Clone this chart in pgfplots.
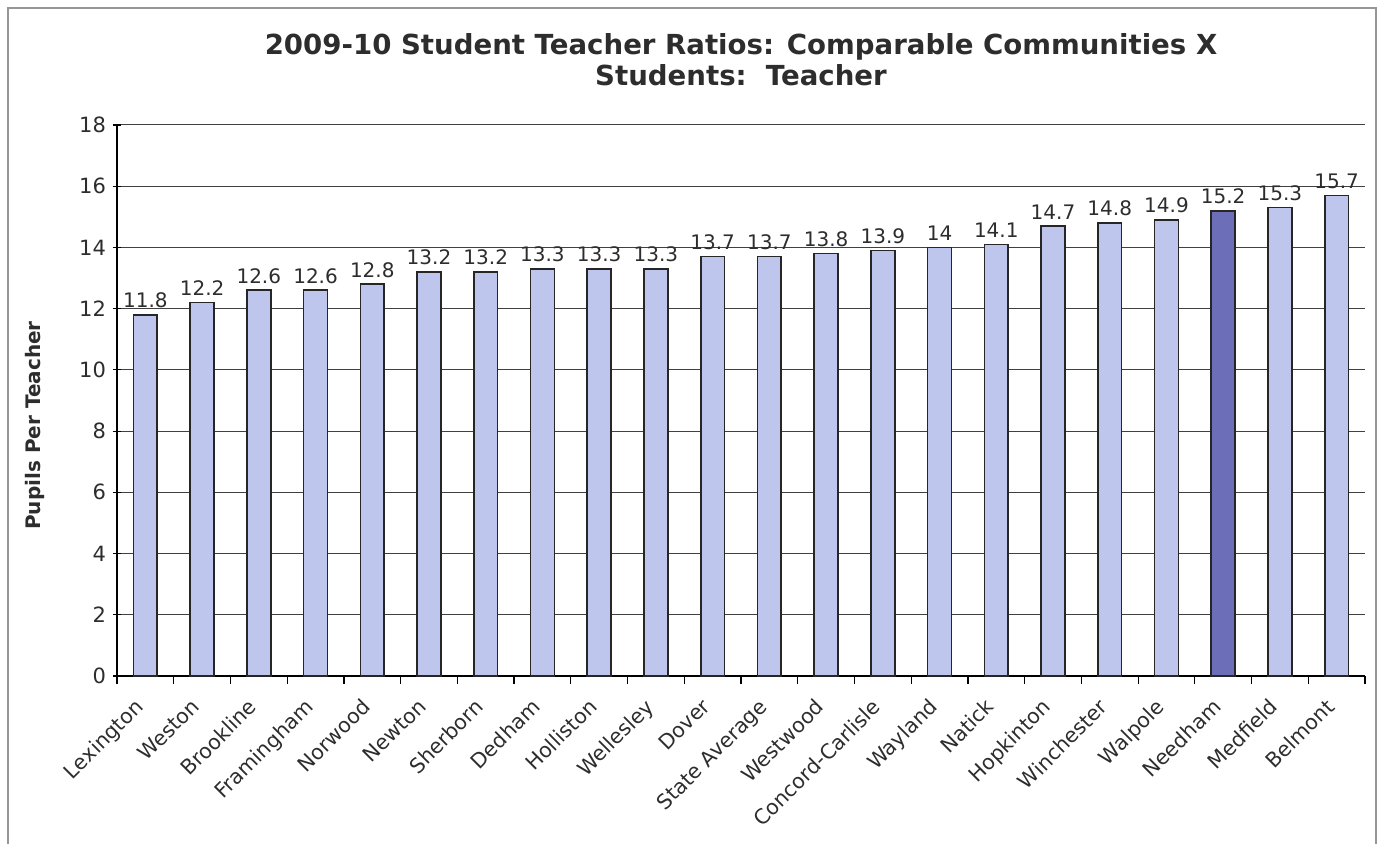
\documentclass[border=0pt]{standalone}
\usepackage{fontspec}
\setmainfont{DejaVu Sans}
\usepackage{pgfplots}
\pgfplotsset{compat=1.18}
\definecolor{barlight}{RGB}{190,198,238}
\definecolor{bardark}{RGB}{108,110,184}
\definecolor{txt}{RGB}{45,45,45}
\definecolor{framegray}{RGB}{150,150,150}
\begin{document}
\begin{tikzpicture}
\begin{axis}[
  scale only axis, width=624pt, height=275.5pt,
  ymin=0, ymax=18, ytick={0,2,...,18},
  xmin=-0.5, xmax=21.5,
  xtick={0,...,21},
  xticklabels={Lexington,Weston,Brookline,Framingham,Norwood,Newton,Sherborn,Dedham,Holliston,Wellesley,Dover,State Average,Westwood,Concord-Carlisle,Wayland,Natick,Hopkinton,Winchester,Walpole,Needham,Medfield,Belmont},
  major x tick style={draw=none},
  minor xtick={-0.5,0.5,...,21.5},
  tick align=outside,
  major tick length=4pt, minor tick length=4pt,
  tick style={black, line width=0.6pt},
  axis lines=left,
  axis line style={-, black, line width=0.8pt},
  ymajorgrids,
  grid style={black!75, line width=0.5pt},
  /pgf/number format/assume math mode=true,
  x tick label style={xshift=-6pt, yshift=-5pt, rotate=45, anchor=north east, font=\fontsize{10.3}{12}\selectfont, color=txt, inner sep=1pt},
  y tick label style={font=\fontsize{10.5}{12}\selectfont, color=txt},
  ybar, bar width=0.42, bar shift=0pt,
  nodes near coords,
  every node near coord/.append style={font=\fontsize{10}{12}\selectfont, color=txt, inner sep=3pt},
  title={2009-10 Student Teacher Ratios: Comparable Communities X\\Students:\ \ Teacher},
  title style={font=\bfseries\fontsize{13.8}{15.5}\selectfont, color=txt, align=center, at={(axis description cs:0.5,1)}, anchor=south, yshift=10pt},
  ylabel={Pupils Per Teacher},
  every axis y label/.style={at={(axis description cs:0,0.5)}, xshift=-41pt, yshift=-12.5pt, rotate=90, anchor=center, font=\bfseries\fontsize{10}{12}\selectfont, color=txt},
  clip=false,
]
\addplot[draw=black!85, line width=0.8pt, fill=barlight] coordinates {
(0,11.8) (1,12.2) (2,12.6) (3,12.6) (4,12.8) (5,13.2) (6,13.2) (7,13.3) (8,13.3) (9,13.3) (10,13.7) (11,13.7) (12,13.8) (13,13.9) (14,14) (15,14.1) (16,14.7) (17,14.8) (18,14.9) (20,15.3) (21,15.7)
};
\addplot[draw=black!85, line width=0.8pt, fill=bardark] coordinates {(19,15.2)};
\coordinate (bbSW) at ([xshift=-58.5pt,yshift=-84pt]axis description cs:0,0);
\coordinate (bbNE) at ([xshift=9.5pt,yshift=62.5pt]axis description cs:1,1);
\coordinate (frSW) at ([xshift=-54.5pt,yshift=-90pt]axis description cs:0,0);
\coordinate (frNE) at ([xshift=5.5pt,yshift=58.5pt]axis description cs:1,1);
\end{axis}
\draw[framegray, line width=0.8pt] (frSW) |- (frNE) -- (frNE |- frSW);
\pgfresetboundingbox
\path (bbSW) rectangle (bbNE);
\end{tikzpicture}
\end{document}
